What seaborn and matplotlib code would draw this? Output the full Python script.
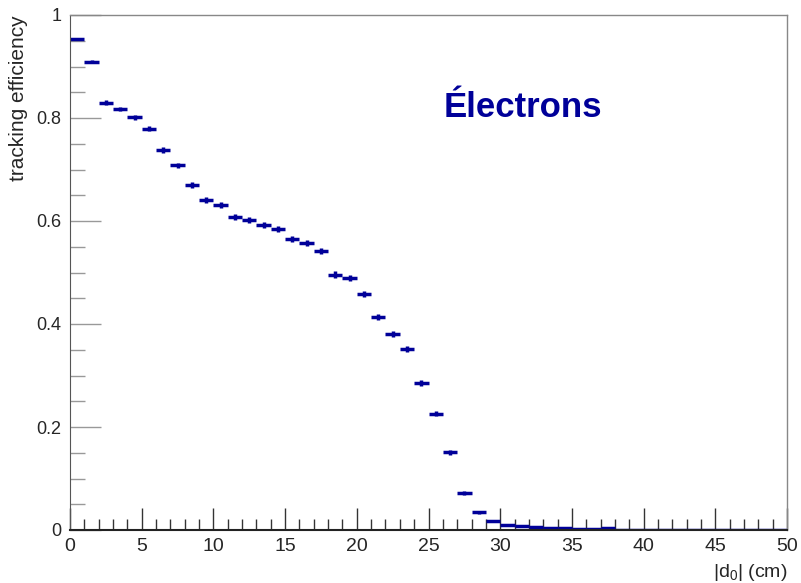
import numpy as np
import matplotlib
matplotlib.use("Agg")
import matplotlib.pyplot as plt
import seaborn as sns
from matplotlib.ticker import MultipleLocator

# tracking efficiency vs |d0|, 1 cm bins from 0 to 50
bin_edges = list(range(0, 51))
efficiency = [0.953, 0.909, 0.830, 0.817, 0.801, 0.779, 0.738, 0.708, 0.670, 0.640,
              0.631, 0.608, 0.602, 0.593, 0.585, 0.565, 0.558, 0.542, 0.496, 0.489,
              0.458, 0.413, 0.380, 0.351, 0.285, 0.226, 0.151, 0.071, 0.034, 0.017,
              0.010, 0.008, 0.005, 0.0035, 0.0035, 0.0025, 0.0013, 0.0033, 0.0005, 0.0005,
              0.0, 0.0, 0.0, 0.0, 0.0, 0.0, 0.0, 0.0, 0.0, 0.0]
eff_err = [0.002, 0.003, 0.004, 0.004, 0.004, 0.005, 0.005, 0.005, 0.005, 0.006,
           0.006, 0.006, 0.006, 0.006, 0.006, 0.006, 0.006, 0.006, 0.006, 0.006,
           0.006, 0.006, 0.006, 0.006, 0.006, 0.005, 0.005, 0.004, 0.002, 0.001,
           0.001, 0.001, 0.0, 0.0, 0.0, 0.0, 0.0, 0.0, 0.0, 0.0,
           0.0, 0.0, 0.0, 0.0, 0.0, 0.0, 0.0, 0.0, 0.0, 0.0]

sns.set_style("white")
plt.rcParams['font.family'] = ['Liberation Sans', 'DejaVu Sans']
plt.rcParams['mathtext.default'] = 'regular'

edges = np.array(bin_edges, dtype=float)
centers = 0.5 * (edges[:-1] + edges[1:])
halfw = 0.5 * np.diff(edges)

fig = plt.figure(figsize=(8.01, 5.83), dpi=100)
ax = fig.add_axes([70 / 801, 53 / 583, 717 / 801, 515 / 583])

col = '#000099'
ax.errorbar(centers, efficiency, xerr=halfw, yerr=eff_err, fmt='none',
            ecolor=col, elinewidth=2.5, capsize=0)

ax.set_xlim(0, 50)
ax.set_ylim(0, 1)

ax.xaxis.set_major_locator(MultipleLocator(5))
ax.xaxis.set_minor_locator(MultipleLocator(1))
ax.yaxis.set_major_locator(MultipleLocator(0.2))
ax.yaxis.set_minor_locator(MultipleLocator(0.05))
ax.yaxis.set_major_formatter(plt.FuncFormatter(lambda v, p: f"{v:g}"))

ax.tick_params(axis='x', which='major', direction='in', length=16, width=1,
               color='#333333', labelsize=14, pad=6, bottom=True, top=False)
ax.tick_params(axis='x', which='minor', direction='in', length=8, width=1,
               color='#333333', bottom=True, top=False)
ax.tick_params(axis='y', which='major', direction='in', length=22, width=1,
               color='#999999', labelsize=13, pad=6, left=True, right=False)
ax.tick_params(axis='y', which='minor', direction='in', length=11, width=1,
               color='#999999', left=True, right=False)

for side in ['top', 'right']:
    ax.spines[side].set_color('#888888')
    ax.spines[side].set_linewidth(1)
ax.spines['left'].set_color('#555555')
ax.spines['bottom'].set_color('#222222')
ax.spines['bottom'].set_linewidth(1.5)

ax.set_ylabel('tracking efficiency', fontsize=15, loc='top')
ax.yaxis.set_label_coords(-0.059, 1.0)
ax.set_xlabel('|d$_0$| (cm)', fontsize=14, loc='right', labelpad=5)

ax.text(31.6, 0.82, 'Électrons', fontsize=25, fontweight='bold', color=col,
        ha='center', va='center')

fig.savefig('out.png', dpi=100)
